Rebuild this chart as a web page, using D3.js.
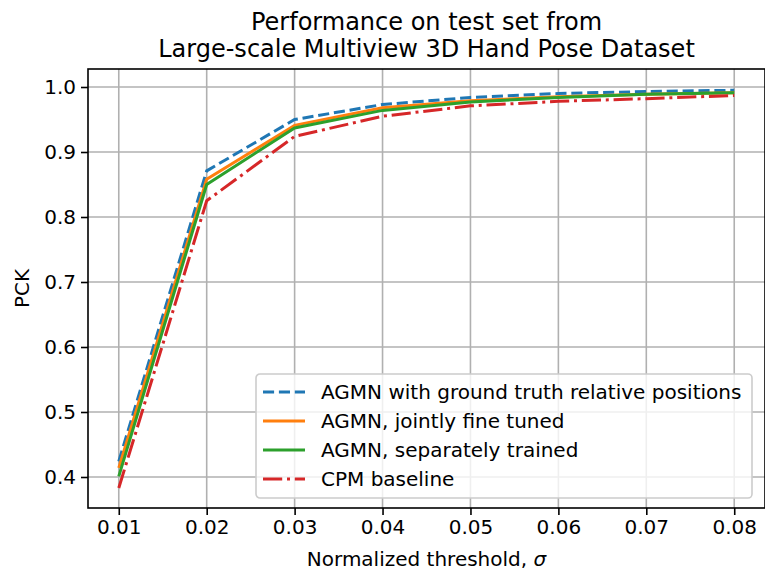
<!DOCTYPE html>
<html>
<head>
<meta charset="utf-8">
<script src="https://cdn.jsdelivr.net/npm/d3@7"></script>
<style>
  body { margin: 0; background: #fff; }
  svg text { font-family: "DejaVu Sans", sans-serif; fill: #000; }
</style>
</head>
<body>
<svg id="chart" width="765" height="572"></svg>
<script>
// thresholds and PCK values
var thresholds = [0.01, 0.02, 0.03, 0.04, 0.05, 0.06, 0.07, 0.08];
var gtRelative = [0.424, 0.871, 0.950, 0.973, 0.984, 0.990, 0.993, 0.995];
var jointlyTuned = [0.414, 0.858, 0.941, 0.968, 0.979, 0.985, 0.989, 0.991];
var separately = [0.401, 0.850, 0.937, 0.964, 0.977, 0.984, 0.989, 0.991];
var cpmBaseline = [0.383, 0.825, 0.924, 0.955, 0.971, 0.978, 0.982, 0.987];

var seriesNames = ["AGMN with ground truth relative positions", "AGMN, jointly fine tuned",
                   "AGMN, separately trained", "CPM baseline"];
var seriesColors = ["#1f77b4", "#ff7f0e", "#2ca02c", "#d62728"];
var seriesDash = ["11.1,4.8", null, null, "19.2,4.8,3,4.8"];
var yTicks = [0.4, 0.5, 0.6, 0.7, 0.8, 0.9, 1.0];

var svg = d3.select("#chart")
  , mLeft = 88
  , mRight = 765
  , mTop = 69
  , mBottom = 508
  , fontSize = "20px";

var x = d3.scaleLinear().domain([0.0065, 0.0835]).range([mLeft, mRight]);
var y = d3.scaleLinear().domain([0.3523, 1.0277]).range([mBottom, mTop]);

// grid
svg.append("g")
  .selectAll("line")
  .data(thresholds)
 .enter().append("line")
  .attr("x1", d => x(d)).attr("x2", d => x(d))
  .attr("y1", mTop).attr("y2", mBottom)
  .attr("stroke", "#b0b0b0").attr("stroke-width", 1.6);
svg.append("g")
  .selectAll("line")
  .data(yTicks)
 .enter().append("line")
  .attr("y1", d => y(d)).attr("y2", d => y(d))
  .attr("x1", mLeft).attr("x2", mRight)
  .attr("stroke", "#b0b0b0").attr("stroke-width", 1.6);

// lines
var data = [gtRelative, jointlyTuned, separately, cpmBaseline];
var line = d3.line().x((d, i) => x(thresholds[i])).y(d => y(d));

data.forEach(function(vals, i){
  svg.append("path")
    .datum(vals)
    .attr("d", line)
    .attr("fill", "none")
    .attr("stroke", seriesColors[i])
    .attr("stroke-width", 3)
    .attr("stroke-dasharray", seriesDash[i]);
});

// axes
var xAxis = d3.axisBottom(x).tickValues(thresholds).tickFormat(d3.format(".2f")).tickSizeOuter(0).tickSize(7).tickPadding(5);
var yAxis = d3.axisLeft(y).tickValues(yTicks).tickFormat(d3.format(".1f")).tickSizeOuter(0).tickSize(7).tickPadding(5);

var gx = svg.append("g").attr("transform", "translate(0," + mBottom + ")").call(xAxis);
var gy = svg.append("g").attr("transform", "translate(" + mLeft + ",0)").call(yAxis);
[gx, gy].forEach(function(g){
  g.select(".domain").remove();
  g.selectAll("line").attr("stroke", "#000").attr("stroke-width", 1.6);
  g.selectAll("text").style("font-size", fontSize).attr("fill", "#000");
});

// frame
svg.append("rect")
  .attr("x", mLeft).attr("y", mTop)
  .attr("width", mRight - mLeft).attr("height", mBottom - mTop)
  .attr("fill", "none").attr("stroke", "#000").attr("stroke-width", 1.6);

// title + labels
svg.append("text").attr("x", (mLeft + mRight) / 2).attr("y", 30)
  .attr("text-anchor", "middle").style("font-size", "24px")
  .text("Performance on test set from");
svg.append("text").attr("x", (mLeft + mRight) / 2).attr("y", 57)
  .attr("text-anchor", "middle").style("font-size", "24px")
  .text("Large-scale Multiview 3D Hand Pose Dataset");

svg.append("text").attr("x", (mLeft + mRight) / 2).attr("y", 566)
  .attr("text-anchor", "middle").style("font-size", fontSize)
  .html("Normalized threshold, <tspan font-style='italic'>σ</tspan>");

svg.append("text")
  .attr("transform", "translate(29," + ((mTop + mBottom) / 2) + ") rotate(-90)")
  .attr("text-anchor", "middle").style("font-size", fontSize)
  .text("PCK");

// legend
var legend = svg.append("g").attr("transform", "translate(256,374)");
legend.append("rect")
  .attr("width", 496).attr("height", 124).attr("rx", 4)
  .attr("fill", "#fff").attr("fill-opacity", 0.8)
  .attr("stroke", "#cccccc").attr("stroke-width", 1.6);

var items = legend.selectAll("g.item")
  .data(seriesNames)
 .enter().append("g")
  .attr("transform", (d, i) => "translate(0," + (18 + i * 29) + ")");
items.append("line")
  .attr("x1", 7).attr("x2", 49)
  .attr("stroke", (d, i) => seriesColors[i])
  .attr("stroke-width", 3)
  .attr("stroke-dasharray", (d, i) => seriesDash[i]);
items.append("text")
  .attr("x", 65).attr("dy", "0.35em")
  .style("font-size", fontSize)
  .text(d => d);
</script>
</body>
</html>
